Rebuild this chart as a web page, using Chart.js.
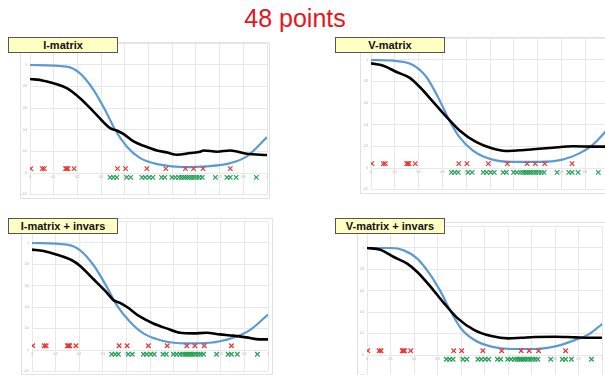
<!DOCTYPE html>
<html>
<head>
<meta charset="utf-8">
<script src="https://cdn.jsdelivr.net/npm/chart.js@4.4.1/dist/chart.umd.min.js"></script>
<style>
  html, body { margin: 0; padding: 0; background: #fff; overflow: hidden; width: 605px; height: 375px; }
  .title { position: absolute; left: 0; width: 590px; top: 6px; text-align: center; color: #e8141c;
           font: 25px "Liberation Sans", Arial, sans-serif; line-height: 25px; }
  .frame { position: absolute; border: 1px solid #e2e2e2; box-sizing: border-box; }
  canvas { position: absolute; }
  .label { position: absolute; width: 110px; height: 16px; box-sizing: border-box; background: #ffffc4;
           border: 1px solid #555; text-align: center; font: bold 11px "Liberation Sans", Arial, sans-serif;
           line-height: 14px; color: #111; }
</style>
</head>
<body>
<div class="title">48 points</div>

<div class="frame" style="left:20px;top:42px;width:250px;height:157px"></div>
<div class="frame" style="left:360px;top:37px;width:255px;height:157px"></div>
<div class="frame" style="left:21px;top:218px;width:252px;height:157px"></div>
<div class="frame" style="left:357px;top:222px;width:255px;height:157px"></div>

<canvas id="c1" width="270" height="177" style="left:10px;top:32px"></canvas>
<canvas id="c2" width="275" height="177" style="left:350px;top:27px"></canvas>
<canvas id="c3" width="272" height="177" style="left:11px;top:208px"></canvas>
<canvas id="c4" width="275" height="177" style="left:347px;top:212px"></canvas>

<div class="label" style="left:8px;top:37px">I-matrix</div>
<div class="label" style="left:335px;top:37px">V-matrix</div>
<div class="label" style="left:8px;top:218px">I-matrix + invars</div>
<div class="label" style="left:335px;top:218px">V-matrix + invars</div>

<script>
// sample positions (same in all four panels)
const redX = [0.003, 0.052, 0.060, 0.150, 0.155, 0.160, 0.186, 0.369, 0.403, 0.493, 0.573, 0.656, 0.690, 0.730, 0.845];
const greenX = [0.338, 0.352, 0.366, 0.408, 0.425, 0.472, 0.486, 0.503, 0.518, 0.555, 0.569,
  0.599, 0.613, 0.627, 0.638, 0.648, 0.656, 0.665, 0.673, 0.683, 0.693, 0.704, 0.715, 0.727,
  0.782, 0.831, 0.845, 0.870, 0.955];
const redY = 0.04;
const greenY = -0.04;

// I-matrix
const iBlueX = [0, 0.155, 0.211, 0.268, 0.324, 0.359, 0.408, 0.465, 0.549, 0.648, 0.746, 0.845, 0.915, 1];
const iBlueY = [1.0, 0.985, 0.923, 0.77, 0.554, 0.40, 0.246, 0.138, 0.077, 0.055, 0.062, 0.092, 0.154, 0.332];
const iBlackX = [0, 0.056, 0.155, 0.211, 0.268, 0.338, 0.366, 0.394, 0.437, 0.479, 0.535, 0.577, 0.620, 0.676, 0.718, 0.732, 0.789, 0.845, 0.915, 1];
const iBlackY = [0.871, 0.855, 0.785, 0.692, 0.569, 0.415, 0.394, 0.363, 0.292, 0.252, 0.209, 0.191, 0.169, 0.185, 0.197, 0.209, 0.197, 0.209, 0.178, 0.166];

// V-matrix
const vBlueX = [0, 0.107, 0.176, 0.232, 0.288, 0.329, 0.371, 0.427, 0.497, 0.593, 0.706, 0.804, 0.873, 0.929, 0.978, 1];
const vBlueY = [1.0, 0.99, 0.954, 0.845, 0.628, 0.443, 0.288, 0.164, 0.087, 0.056, 0.056, 0.077, 0.133, 0.21, 0.319, 0.38];
const vBlackX = [0, 0.052, 0.107, 0.163, 0.204, 0.261, 0.317, 0.371, 0.441, 0.511, 0.566, 0.625, 0.681, 0.763, 0.849, 0.933, 1];
const vBlackY = [0.969, 0.947, 0.889, 0.835, 0.752, 0.613, 0.474, 0.350, 0.241, 0.180, 0.158, 0.164, 0.173, 0.188, 0.201, 0.198, 0.198];

// I-matrix + invars
const iiBlueX = [0, 0.148, 0.204, 0.261, 0.317, 0.359, 0.415, 0.472, 0.556, 0.655, 0.754, 0.852, 0.923, 1];
const iiBlueY = [1.0, 0.984, 0.932, 0.792, 0.590, 0.419, 0.264, 0.155, 0.084, 0.062, 0.068, 0.115, 0.186, 0.332];
const iiBlackX = [0, 0.049, 0.106, 0.169, 0.204, 0.261, 0.317, 0.345, 0.373, 0.401, 0.458, 0.514, 0.570, 0.627, 0.683, 0.739, 0.796, 0.852, 0.908, 0.965, 1];
const iiBlackY = [0.938, 0.925, 0.891, 0.839, 0.786, 0.661, 0.537, 0.466, 0.441, 0.404, 0.311, 0.248, 0.202, 0.161, 0.155, 0.161, 0.146, 0.134, 0.118, 0.099, 0.099];

// V-matrix + invars
const viBlueX = [0, 0.1, 0.157, 0.214, 0.271, 0.314, 0.357, 0.4, 0.457, 0.529, 0.614, 0.714, 0.814, 0.886, 0.943, 0.986, 1.02];
const viBlueY = [1.0, 1.0, 0.978, 0.901, 0.745, 0.59, 0.404, 0.248, 0.14, 0.078, 0.056, 0.056, 0.087, 0.14, 0.193, 0.264, 0.326];
const viBlackX = [0, 0.057, 0.114, 0.171, 0.214, 0.271, 0.329, 0.386, 0.457, 0.529, 0.6, 0.657, 0.714, 0.8, 0.886, 0.971, 1];
const viBlackY = [1.0, 0.984, 0.916, 0.854, 0.776, 0.637, 0.481, 0.342, 0.233, 0.177, 0.155, 0.161, 0.168, 0.171, 0.165, 0.161, 0.161];

const pts = (xs, ys) => xs.map((x, i) => ({ x: x, y: Array.isArray(ys) ? ys[i] : ys }));
const fmt = v => String(Math.round(v * 10) / 10);

// area: wanted plot rectangle inside the canvas (left = x 0, right = x 1, top = y 1.2, bottom = y -0.2)
function makeChart(id, blueX, blueY, blackX, blackY, area) {
  const canvas = document.getElementById(id);
  const pad = { left: 0, top: 10, right: 10, bottom: 10 };
  const chart = new Chart(canvas, {
    type: 'scatter',
    data: {
      datasets: [
        { data: pts(redX, redY), pointStyle: 'crossRot', pointRadius: 3.2, borderColor: '#e53935', borderWidth: 1.2, showLine: false },
        { data: pts(greenX, greenY), pointStyle: 'crossRot', pointRadius: 3.2, borderColor: '#25a35a', borderWidth: 1.2, showLine: false },
        { data: pts(blackX, blackY), showLine: true, borderColor: '#000', borderWidth: 2.6, pointRadius: 0, cubicInterpolationMode: 'monotone' },
        { data: pts(blueX, blueY), showLine: true, borderColor: '#5b9bd5', borderWidth: 2.2, pointRadius: 0, cubicInterpolationMode: 'monotone' }
      ]
    },
    options: {
      responsive: false,
      animation: false,
      layout: { padding: pad },
      plugins: { legend: { display: false }, tooltip: { enabled: false } },
      scales: {
        x: {
          type: 'linear', min: 0, max: 1, position: { y: 0 },
          afterFit: s => { s.height = 0; },
          grid: { color: '#e8e8e8', drawTicks: false },
          border: { display: false },
          ticks: { stepSize: 0.1, autoSkip: false, maxRotation: 0, padding: 2, color: '#aaa', font: { size: 3 }, callback: fmt }
        },
        y: {
          min: -0.2, max: 1.2,
          afterFit: s => { s.width = 10; },
          grid: { color: '#e8e8e8', drawTicks: false },
          border: { display: false },
          ticks: { stepSize: 0.2, padding: 3, color: '#aaa', font: { size: 3 }, callback: v => v > 1.05 ? '' : fmt(v) }
        }
      }
    }
  });
  // shift the padding so the plot area lands where it should
  const ca = chart.chartArea;
  pad.left += area.left - ca.left;
  pad.top += area.top - ca.top;
  pad.right += ca.right - area.right;
  pad.bottom += ca.bottom - area.bottom;
  chart.options.layout.padding = pad;
  chart.update();
}

// canvas origins: c1 (10,32), c2 (350,27), c3 (11,208), c4 (347,212)
makeChart('c1', iBlueX, iBlueY, iBlackX, iBlackY, { left: 30 - 10, right: 267 - 10, top: 43.4 - 32, bottom: 194.6 - 32 });
makeChart('c2', vBlueX, vBlueY, vBlackX, vBlackY, { left: 371 - 350, right: 609 - 350, top: 38.4 - 27, bottom: 189.6 - 27 });
makeChart('c3', iiBlueX, iiBlueY, iiBlackX, iiBlackY, { left: 32 - 11, right: 268 - 11, top: 221.6 - 208, bottom: 371.4 - 208 });
makeChart('c4', viBlueX, viBlueY, viBlackX, viBlackY, { left: 367 - 347, right: 602 - 347, top: 226.6 - 212, bottom: 376.4 - 212 });
</script>
</body>
</html>
